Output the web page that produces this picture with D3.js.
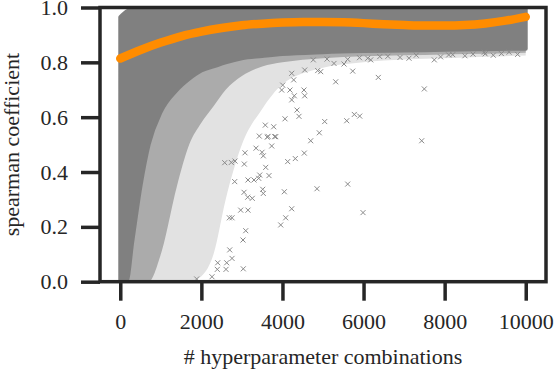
<!DOCTYPE html>
<html>
<head>
<meta charset="utf-8">
<script src="https://cdn.jsdelivr.net/npm/d3@7"></script>
<style>
  body { margin: 0; background: white; }
  text { font-family: "Liberation Serif", "Times New Roman", serif; fill: #262626; }
</style>
</head>
<body>
<div id="chart"></div>
<script>
// orange trend line
var trendX = [0, 500, 1000, 1500, 2000, 2500, 3000, 3500, 4000, 4500, 5000, 5500, 6000, 6500, 7000, 7500, 8000, 8500, 9000, 9500, 10000];
var trendY = [0.814, 0.845, 0.872, 0.895, 0.912, 0.925, 0.935, 0.941, 0.945, 0.947, 0.947, 0.946, 0.943, 0.939, 0.936, 0.934, 0.934, 0.936, 0.942, 0.952, 0.966];

var bandX =     [0,     150,   300,   500,   700,   1000,  1400,  1700,  2000,  2300,  2600,  3000,  3500,  4000,  5000,  6000,  7000,  8000,  9000,  10000];
var bandTop =   [0.965, 0.985, 0.995, 1.01,  1.01,  1.01,  1.01,  1.01,  1.01,  1.01,  1.01,  1.01,  1.01,  1.01,  1.01,  1.01,  1.01,  1.01,  1.01,  1.01];
var denseLow =  [0,     0,     0.15,  0.35,  0.5,   0.62,  0.7,   0.74,  0.77,  0.785, 0.8,   0.815, 0.823, 0.83,  0.837, 0.841, 0.843, 0.846, 0.848, 0.85];
var midLow =    [0,     0,     0,     0,     0,     0.1,   0.35,  0.5,   0.58,  0.64,  0.7,   0.75,  0.785, 0.8,   0.815, 0.822, 0.826, 0.829, 0.831, 0.835];
var sparseLow = [0,     0,     0,     0,     0,     0,     0,     0,     0.02,  0.1,   0.3,   0.5,   0.63,  0.72,  0.78,  0.8,   0.81,  0.815, 0.82,  0.825];

// single points visible outside the cloud
var pointX = [5313, 5733, 6364, 7499, 5585, 5772, 5905, 7434, 7745, 7121, 5518, 5271, 5609, 6103, 6177, 9588, 8978, 5609, 5987,
  4852, 4228, 4080, 3957, 4046, 4697, 4909, 4539, 4317, 4129, 3668, 3513, 3528, 3034, 3027, 3094, 3150, 2970, 3256, 3143, 3052,
  2822, 2756, 2690, 2699, 2756, 2625, 2403, 2393, 2608, 2262, 1885, 3644, 3809, 3735, 3429, 3076, 3348, 3587, 3439, 3414, 3298,
  3150, 3528, 3496, 3059, 2830, 2738, 2576, 5042, 4549, 4531, 4408, 4359, 4063, 4292, 4228, 4186, 3981, 3834, 3626, 3577, 3784,
  4006, 4869, 4943, 4761, 4549, 4228, 4277,
  6600, 6900, 7300, 7900, 8200, 8500, 8700, 9200, 9400, 9800, 5100, 5900, 6400, 8100, 9000];
var pointY = [0.729, 0.768, 0.745, 0.703, 0.587, 0.610, 0.604, 0.514, 0.809, 0.815, 0.794, 0.796, 0.811, 0.815, 0.809, 0.837, 0.837, 0.356, 0.252,
  0.339, 0.266, 0.233, 0.207, 0.328, 0.514, 0.543, 0.469, 0.449, 0.438, 0.387, 0.337, 0.322, 0.047, 0.152, 0.186, 0.261, 0.261, 0.304, 0.308, 0.326,
  0.365, 0.233, 0.233, 0.116, 0.085, 0.069, 0.069, 0.045, 0.045, 0.018, 0.010, 0.530, 0.529, 0.495, 0.531, 0.470, 0.487, 0.417, 0.389, 0.377, 0.371,
  0.371, 0.459, 0.472, 0.429, 0.440, 0.435, 0.434, 0.584, 0.678, 0.699, 0.603, 0.626, 0.594, 0.678, 0.663, 0.699, 0.699, 0.529, 0.527, 0.571, 0.565,
  0.717, 0.770, 0.766, 0.809, 0.772, 0.760, 0.736,
  0.822, 0.818, 0.826, 0.820, 0.828, 0.824, 0.83, 0.826, 0.832, 0.829, 0.812, 0.817, 0.821, 0.827, 0.831];

var xTicks = [0, 2000, 4000, 6000, 8000, 10000];
var yTicks = [0.0, 0.2, 0.4, 0.6, 0.8, 1.0];

var width = 555,
height = 374,
plotLeft = 100,
plotRight = 546,
plotTop = 7.5,
plotBottom = 281.7;

var svg = d3.select("#chart")
.append("svg")
.attr("width", width)
.attr("height", height);

var x = d3.scaleLinear().domain([-500, 10500]).range([plotLeft, plotRight]);
var y = d3.scaleLinear().domain([0, 1]).range([plotBottom, plotTop]);

svg.append("clipPath")
.attr("id", "plot")
.append("rect")
.attr("x", plotLeft)
.attr("y", plotTop)
.attr("width", plotRight - plotLeft)
.attr("height", plotBottom - plotTop);

var plot = svg.append("g").attr("clip-path", "url(#plot)");

function zone(low) {
  var area = d3.area()
  .curve(d3.curveMonotoneX)
  .x(function(d, i) { return x(bandX[i]); })
  .y0(function(d, i) { return y(low[i]); })
  .y1(function(d, i) { return y(bandTop[i]); });
  return area(bandX);
}

plot.append("path").attr("d", zone(sparseLow)).style("fill", "#e2e2e2");
plot.append("path").attr("d", zone(midLow)).style("fill", "#ababab");
plot.append("path").attr("d", zone(denseLow))
.style("fill", "#808080")
.style("stroke", "#808080")
.style("stroke-width", 4)
.style("stroke-linejoin", "round");

plot.selectAll(".pt")
.data(pointX)
.enter()
.append("path")
.attr("class", "pt")
.attr("transform", function(d, i) { return "translate(" + x(d) + "," + y(pointY[i]) + ")"; })
.attr("d", "M-2.5,-2.5L2.5,2.5M-2.5,2.5L2.5,-2.5")
.style("fill", "none")
.style("stroke", "#8a8a8a")
.style("stroke-width", 1);

var line = d3.line()
.curve(d3.curveMonotoneX)
.x(function(d, i) { return x(d); })
.y(function(d, i) { return y(trendY[i]); });

plot.append("path")
.attr("d", line(trendX))
.style("fill", "none")
.style("stroke", "#ff8c00")
.style("stroke-width", 8.5)
.style("stroke-linecap", "round");

// axes
var xAxis = d3.axisBottom(x).tickValues(xTicks).tickSize(19).tickPadding(13).tickFormat(d3.format("d"));
var yAxis = d3.axisLeft(y).tickValues(yTicks).tickSize(19).tickPadding(13).tickFormat(d3.format(".1f"));

var gx = svg.append("g").attr("transform", "translate(0," + plotBottom + ")").call(xAxis);
var gy = svg.append("g").attr("transform", "translate(" + plotLeft + ",0)").call(yAxis);

[gx, gy].forEach(function(g) {
  g.select(".domain").remove();
  g.selectAll(".tick line").style("stroke", "#262626").style("stroke-width", 3.5);
  g.selectAll(".tick text").style("font-size", "22px").style("fill", "#262626")
  .attr("font-family", null);
});
gx.selectAll(".tick text").attr("dy", "0.71em");

svg.append("rect")
.attr("x", plotLeft)
.attr("y", plotTop)
.attr("width", plotRight - plotLeft)
.attr("height", plotBottom - plotTop)
.style("fill", "none")
.style("stroke", "#262626")
.style("stroke-width", 3.5);

svg.append("text")
.attr("x", (plotLeft + plotRight) / 2)
.attr("y", 364)
.attr("text-anchor", "middle")
.style("font-size", "22px")
.text("# hyperparameter combinations");

svg.append("text")
.attr("transform", "translate(19," + (plotTop + plotBottom) / 2 + ") rotate(-90)")
.attr("text-anchor", "middle")
.style("font-size", "22px")
.text("spearman coefficient");
</script>
</body>
</html>
